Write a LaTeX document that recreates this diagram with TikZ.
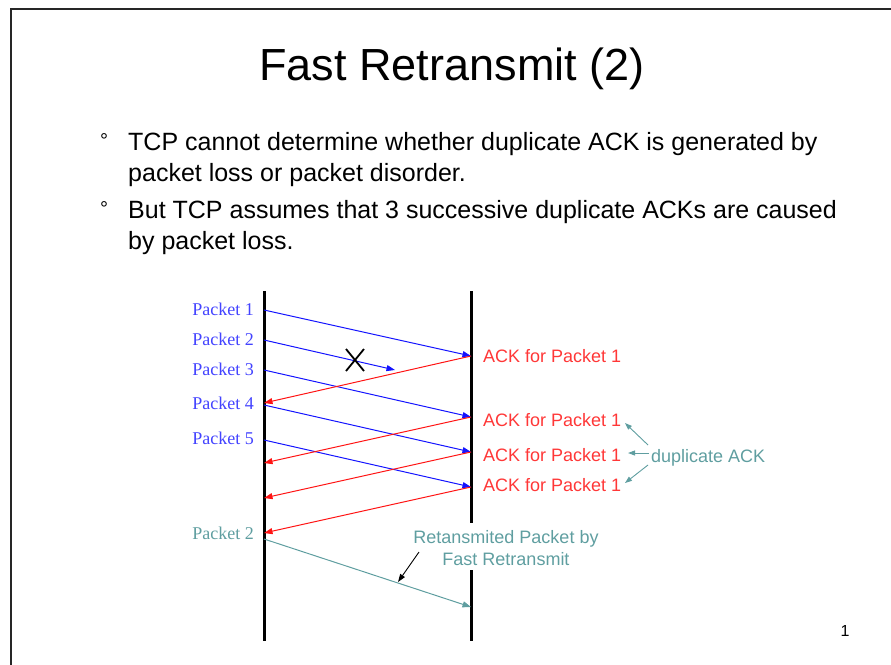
\documentclass[tikz,border=0pt]{standalone}
\usepackage{fontspec}
\setmainfont{Liberation Sans}
\newfontfamily\serifface{Liberation Serif}
\usetikzlibrary{arrows.meta,calc}
\definecolor{pktblue}{RGB}{20,20,255}
\definecolor{ackred}{RGB}{255,20,20}
\definecolor{retteal}{RGB}{95,158,160}
\tikzset{
  timeline/.style={line width=3pt, black},
  tip/.style={-{Triangle[length=8.5pt,width=6pt]}},
  pkt/.style={tip, pktblue, line width=1pt},
  ack/.style={tip, ackred, line width=1pt},
  retx/.style={tip, retteal, line width=1pt},
  pktlabel/.style={anchor=east, inner sep=0pt, text=pktblue!80!white, font=\serifface\fontsize{18}{21}\selectfont},
  acklabel/.style={anchor=west, inner sep=0pt, text=ackred!85!white, font=\fontsize{18}{21}\selectfont},
  bullettext/.style={anchor=base west, inner sep=0pt, font=\fontsize{25}{30}\selectfont},
  bulletmark/.style={anchor=base, inner sep=0pt, font=\fontsize{20}{24}\selectfont},
}
\begin{document}
\begin{tikzpicture}[x=1pt, y=-1pt]
\useasboundingbox (0,0) rectangle (891,664);

% slide frame (top and left edges)
\draw[line width=2.8pt, black!85, line cap=rect] (891,9) -- (11,9) -- (11,664);

% title
\node[inner sep=0pt, font=\fontsize{45}{54}\selectfont] (title) at (452,69) {Fast Retransmit (2)};

% bullet points
\node[bulletmark] (b1) at (104,147) {°};
\node[bullettext] (t1) at (128,150) {TCP cannot determine whether duplicate ACK is generated by};
\node[bullettext] (t2) at (128,181) {packet loss or packet disorder.};
\node[bulletmark] (b2) at (104,215) {°};
\node[bullettext] (t3) at (128,218) {But TCP assumes that 3 successive duplicate ACKs are caused};
\node[bullettext] (t4) at (128,249) {by packet loss.};

% time lines of sender and receiver
\coordinate (Ltop) at (264,291);
\coordinate (Lbot) at (264,641);
\coordinate (Rtop) at (471,291);
\coordinate (Rmid1) at (471,523);
\coordinate (Rmid2) at (471,570);
\coordinate (Rbot) at (471,641);
\draw[timeline] (Ltop) -- (Lbot);
\draw[timeline] (Rtop) -- (Rmid1);
\draw[timeline] (Rmid2) -- (Rbot);

% sender side points
\coordinate (s1) at (264,310);
\coordinate (s2) at (264,340);
\coordinate (s3) at (264,370);
\coordinate (s4) at (264,405);
\coordinate (s5) at (264,440);
\coordinate (a1) at (264,403);
\coordinate (a2) at (264,463);
\coordinate (a3) at (264,498);
\coordinate (a4) at (264,533);
\coordinate (s6) at (264,539);
% receiver side points
\coordinate (r1) at (471,356);
\coordinate (r3) at (471,417);
\coordinate (r4) at (471,452);
\coordinate (r5) at (471,487);
\coordinate (r6) at (471,607);
\coordinate (lost) at (395,370);

% packet labels
\node[pktlabel] (p1) at (254,309) {Packet 1};
\node[pktlabel] (p2) at (254,339) {Packet 2};
\node[pktlabel] (p3) at (254,369) {Packet 3};
\node[pktlabel] (p4) at (254,403) {Packet 4};
\node[pktlabel] (p5) at (254,438) {Packet 5};
\node[pktlabel, text=retteal] (p2r) at (254,533) {Packet 2};

% data packets
\draw[pkt] (s1) -- (r1);
\draw[pkt] (s2) -- (lost);
\draw[pkt] (s3) -- (r3);
\draw[pkt] (s4) -- (r4);
\draw[pkt] (s5) -- (r5);

% loss mark
\coordinate (xm) at (355,360);
\draw[line width=1.8pt, black] ($(xm)+(-9,-11)$) -- ($(xm)+(9,11)$);
\draw[line width=1.8pt, black] ($(xm)+(-9,11)$) -- ($(xm)+(9,-11)$);

% acknowledgements
\draw[ack] (r1) -- (a1);
\draw[ack] (r3) -- (a2);
\draw[ack] (r4) -- (a3);
\draw[ack] (r5) -- (a4);

\node[acklabel] (k1) at (483,356) {ACK for Packet 1};
\node[acklabel] (k2) at (483,420) {ACK for Packet 1};
\node[acklabel] (k3) at (483,455) {ACK for Packet 1};
\node[acklabel] (k4) at (483,485) {ACK for Packet 1};

% duplicate ACK note
\node[anchor=base west, inner sep=0pt, text=retteal, font=\fontsize{18}{21}\selectfont] (dup) at (651,462) {duplicate ACK};
\coordinate (d1s) at (648,445);
\coordinate (d1e) at (625,423);
\coordinate (d2s) at (649,453);
\coordinate (d2e) at (628,453);
\coordinate (d3s) at (648,465);
\coordinate (d3e) at (625,483);
\draw[retx, line width=0.9pt, -{Triangle[length=7pt,width=5pt]}] (d1s) -- (d1e);
\draw[retx, line width=0.9pt, -{Triangle[length=7pt,width=5pt]}] (d2s) -- (d2e);
\draw[retx, line width=0.9pt, -{Triangle[length=7pt,width=5pt]}] (d3s) -- (d3e);

% retransmission
\draw[retx] (s6) -- (r6);
\node[inner sep=0pt, align=center, text=retteal, font=\fontsize{18}{22}\selectfont] (rlabel) at (506,548) {Retansmited Packet by\\Fast Retransmit};
\coordinate (pa) at (419,552);
\coordinate (pb) at (398,582);
\draw[black, line width=0.9pt, -{Triangle[length=8pt,width=5.5pt]}] (pa) -- (pb);

% page number
\node[inner sep=0pt, font=\fontsize{16}{19}\selectfont] (pg) at (845,631) {1};
\end{tikzpicture}
\end{document}
